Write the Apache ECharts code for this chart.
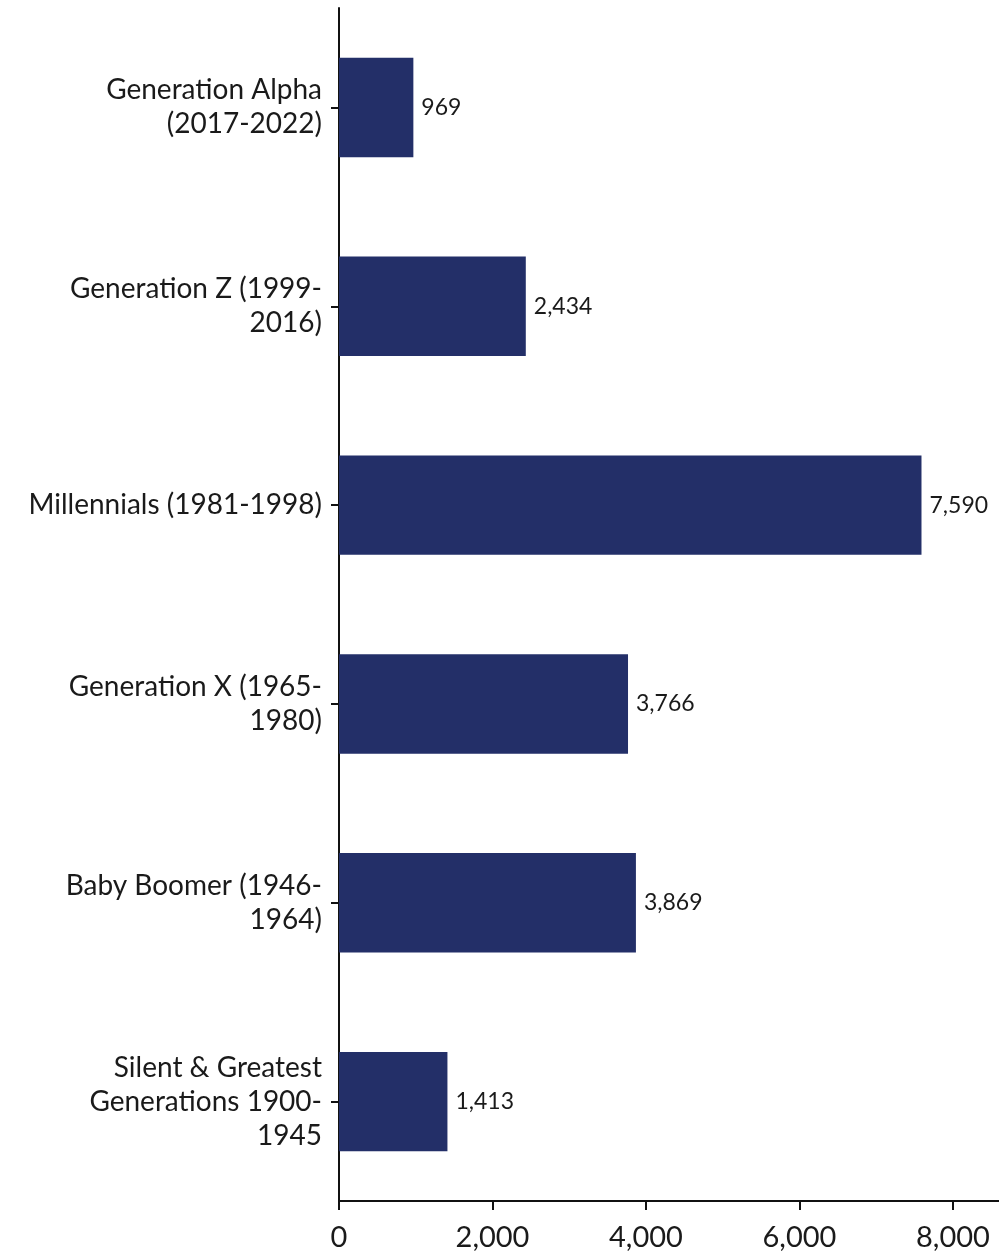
<!DOCTYPE html>
<html>
<head>
<meta charset="utf-8">
<script src="https://cdn.jsdelivr.net/npm/echarts@6/dist/echarts.min.js"></script>
<style>
  html, body { margin: 0; padding: 0; background: #fff; }
  #chart { width: 999px; height: 1252px; }
</style>
</head>
<body>
<div id="chart"></div>
<script>
var categories = [
    'Generation Alpha\n(2017-2022)',
    'Generation Z (1999-\n2016)',
    'Millennials (1981-1998)',
    'Generation X (1965-\n1980)',
    'Baby Boomer (1946-\n1964)',
    'Silent & Greatest\nGenerations 1900-\n1945'
]
var values = [969, 2434, 7590, 3766, 3869, 1413]
var xTicks = [0, 2000, 4000, 6000, 8000]

var chart = echarts.init(document.getElementById('chart'))
var font = 'Lato, "Noto Sans", sans-serif'
var option = {
    animation: false,
    grid: {
        left: 339,
        right: 0,
        top: 8,
        bottom: 50
    },
    xAxis: {
        type: 'value',
        min: 0,
        max: 8600,
        interval: 2000,
        splitLine: { show: false },
        axisLine: { show: true, lineStyle: { color: '#111', width: 2 } },
        axisTick: { show: true, length: 9, lineStyle: { color: '#111', width: 2 } },
        axisLabel: {
            color: '#1a1a1a',
            fontFamily: font,
            fontSize: 29,
            margin: 22,
            showMaxLabel: false,
            formatter: function (v) {
                return xTicks.indexOf(v) >= 0 ? v.toLocaleString('en-US') : ''
            }
        }
    },
    yAxis: {
        type: 'category',
        inverse: true,
        data: categories,
        axisLine: { show: true, lineStyle: { color: '#111', width: 2 } },
        axisTick: { show: true, alignWithLabel: true, length: 8, lineStyle: { color: '#111', width: 2 } },
        axisLabel: {
            color: '#1a1a1a',
            fontFamily: font,
            fontSize: 28,
            lineHeight: 34,
            align: 'right',
            margin: 17,
            padding: [0, 0, 12, 0]
        }
    },
    series: [{
        type: 'bar',
        data: values,
        barWidth: '50%',
        itemStyle: { color: '#232F68' },
        label: {
            show: true,
            position: 'right',
            distance: 8,
            color: '#1a1a1a',
            fontFamily: font,
            fontSize: 23,
            formatter: function (p) {
                return p.value.toLocaleString('en-US')
            }
        }
    }]
}
chart.setOption(option)
window.addEventListener('resize', function () {
    chart.resize()
})
</script>
</body>
</html>
